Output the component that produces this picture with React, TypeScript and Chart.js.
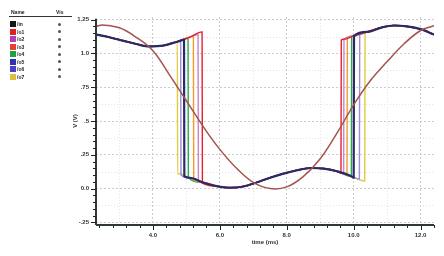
import React, { useEffect, useRef } from "react";
import { Chart, registerables } from "chart.js";
Chart.register(...registerables);

// input sine (brown)
const inputTimes = [2.3, 2.5, 3.0, 3.5, 4.0, 4.5, 5.0, 5.5, 6.0, 6.5, 7.0, 7.5, 8.0, 8.5, 9.0, 9.5, 10.0, 10.5, 11.0, 11.5, 12.0, 12.4];
const inputValues = [1.2, 1.21, 1.19, 1.12, 1.02, 0.84, 0.65, 0.46, 0.29, 0.15, 0.045, 0.0, 0.012, 0.09, 0.22, 0.41, 0.62, 0.8, 0.94, 1.07, 1.17, 1.205];

// shared output states
const highATimes = [2.3, 2.7, 3.1, 3.5, 3.9, 4.3, 4.7, 5.1, 5.5];
const highAValues = [1.14, 1.12, 1.095, 1.07, 1.052, 1.058, 1.085, 1.12, 1.16];
const lowTimes = [4.8, 5.1, 5.5, 5.9, 6.3, 6.7, 7.1, 7.5, 7.9, 8.3, 8.7, 9.1, 9.5, 9.9, 10.3];
const lowValues = [0.11, 0.08, 0.045, 0.018, 0.006, 0.015, 0.045, 0.08, 0.11, 0.135, 0.152, 0.148, 0.128, 0.095, 0.058];
const highBTimes = [9.7, 10.0, 10.4, 10.8, 11.2, 11.6, 12.0, 12.4];
const highBValues = [1.105, 1.13, 1.16, 1.19, 1.207, 1.2, 1.18, 1.14];

// switched output series
const seriesNames = ["/o1", "/o2", "/o3", "/o4", "/o5", "/o6", "/o7"];
const seriesColors = ["#e4202c", "#c884cc", "#f09a2e", "#2aa84c", "#2a2a68", "#9c8cdc", "#e2cc3a"];
const fallTimes = [5.47, 5.35, 5.21, 5.05, 4.93, 4.83, 4.73];
const fallTop = [1.16, 1.14, 1.13, 1.115, 1.1, 1.09, 1.085];
const fallBottom = [0.04, 0.05, 0.065, 0.08, 0.09, 0.1, 0.11];
const riseTimes = [9.62, 9.7, 9.8, 9.93, 10.0, 10.17, 10.33];
const riseBottom = [0.115, 0.11, 0.1, 0.09, 0.08, 0.07, 0.055];
const riseTop = [1.1, 1.105, 1.115, 1.125, 1.13, 1.145, 1.155];

const inputName = "/in";
const inputColor = "#a4544e";
const legendNames = [inputName, ...seriesNames];
const legendSwatches = ["#151515", "#e02020", "#b040b8", "#e84030", "#20a040", "#3030b0", "#4a40c4", "#d8c040"];

const xTickValues = [4, 6, 8, 10, 12];
const xTickLabels = ["4.0", "6.0", "8.0", "10.0", "12.0"];
const yTickValues = [1.25, 1.0, 0.75, 0.5, 0.25, 0.0, -0.25];
const yTickLabels = ["1.25", "1.0", ".75", ".5", ".25", "0.0", "-.25"];
const xMinorGrid = [3, 5, 7, 9, 11];
const yMinorGrid = [1.125, 0.875, 0.625, 0.375, 0.125, -0.125];

function buildSeries(i: number) {
  const tf = fallTimes[i];
  const tr = riseTimes[i];
  const pts: { x: number; y: number }[] = [];
  highATimes.forEach((t, k) => { if (t < tf - 0.05) pts.push({ x: t, y: highAValues[k] }); });
  pts.push({ x: tf, y: fallTop[i] });
  pts.push({ x: tf + 0.01, y: fallBottom[i] });
  lowTimes.forEach((t, k) => { if (t > tf + 0.06 && t < tr - 0.06) pts.push({ x: t, y: lowValues[k] }); });
  pts.push({ x: tr, y: riseBottom[i] });
  pts.push({ x: tr + 0.01, y: riseTop[i] });
  highBTimes.forEach((t, k) => { if (t > tr + 0.06) pts.push({ x: t, y: highBValues[k] }); });
  return pts;
}

const decor = {
  id: "decor",
  beforeDatasetsDraw(chart: any) {
    const { ctx, chartArea: a, scales } = chart;
    const x = scales.x, y = scales.y;
    ctx.save();
    ctx.strokeStyle = "#e4e4e4";
    ctx.lineWidth = 1;
    ctx.setLineDash([1, 2]);
    for (const v of xMinorGrid) {
      const px = Math.round(x.getPixelForValue(v)) + 0.5;
      ctx.beginPath(); ctx.moveTo(px, a.top); ctx.lineTo(px, a.bottom); ctx.stroke();
    }
    for (const v of yMinorGrid) {
      const py = Math.round(y.getPixelForValue(v)) + 0.5;
      ctx.beginPath(); ctx.moveTo(a.left, py); ctx.lineTo(a.right, py); ctx.stroke();
    }
    ctx.restore();
  },
  afterDraw(chart: any) {
    const { ctx, chartArea: a, scales } = chart;
    const x = scales.x, y = scales.y;
    ctx.save();
    ctx.setLineDash([]);
    ctx.strokeStyle = "#2e3a33";
    ctx.lineWidth = 2;
    ctx.beginPath(); ctx.moveTo(a.left, a.bottom); ctx.lineTo(a.right, a.bottom); ctx.stroke();
    ctx.beginPath(); ctx.moveTo(a.left, y.getPixelForValue(1.25) - 1); ctx.lineTo(a.left, a.bottom); ctx.stroke();
    ctx.lineWidth = 1;
    ctx.strokeStyle = "#222";
    for (let k = 0; k <= 25; k++) {
      const v = 2.4 + k * 0.4;
      if (v > 12.41) break;
      const px = Math.round(x.getPixelForValue(v)) + 0.5;
      const major = Math.abs(v / 2 - Math.round(v / 2)) < 0.01;
      ctx.beginPath(); ctx.moveTo(px, a.bottom); ctx.lineTo(px, a.bottom + (major ? 5 : 3)); ctx.stroke();
    }
    for (let k = 0; k <= 30; k++) {
      const v = -0.25 + k * 0.05;
      const py = Math.round(y.getPixelForValue(v)) + 0.5;
      const major = Math.abs(v / 0.25 - Math.round(v / 0.25)) < 0.01;
      ctx.beginPath(); ctx.moveTo(a.left, py); ctx.lineTo(a.left - (major ? 5 : 3), py); ctx.stroke();
    }
    ctx.restore();
  },
};

export default function App() {
  const ref = useRef<HTMLCanvasElement>(null);
  useEffect(() => {
    if (!ref.current) return;
    const datasets: any[] = [
      {
        label: inputName,
        data: inputTimes.map((t, k) => ({ x: t, y: inputValues[k] })),
        borderColor: inputColor,
        borderWidth: 1.5,
        pointRadius: 0,
        tension: 0.4,
        order: 0,
      },
      ...seriesNames.map((n, i) => ({
        label: n,
        data: buildSeries(i),
        borderColor: seriesColors[i],
        borderWidth: i === 4 ? 2.2 : 1.4,
        pointRadius: 0,
        cubicInterpolationMode: "monotone",
        order: i === 4 ? 1 : 2 + i,
      })),
    ];
    const font = { family: "'Liberation Sans', Arial, sans-serif", size: 6, weight: "bold" as const };
    const chart = new Chart(ref.current, {
      type: "line",
      data: { datasets },
      plugins: [decor],
      options: {
        animation: false,
        responsive: false,
        layout: { padding: { left: 68, top: 17, right: 10, bottom: 6 } },
        plugins: { legend: { display: false }, tooltip: { enabled: false } },
        scales: {
          x: {
            type: "linear",
            min: 2.3,
            max: 12.4,
            afterFit: (s: any) => { s.height = 25; },
            afterBuildTicks: (s: any) => { s.ticks = xTickValues.map((v) => ({ value: v })); },
            ticks: {
              padding: 7,
              font,
              color: "#333",
              maxRotation: 0,
              autoSkip: false,
              callback: (v: any) => { const k = xTickValues.indexOf(Number(v)); return k >= 0 ? xTickLabels[k] : ""; },
            },
            grid: { color: "#cccccc", lineWidth: 1, drawTicks: false },
            border: { display: false, dash: [2, 2] },
            title: { display: true, text: "time (ms)", font, color: "#333", padding: 4 },
          },
          y: {
            type: "linear",
            min: -0.27,
            max: 1.27,
            afterFit: (s: any) => { s.width = 28; },
            afterBuildTicks: (s: any) => { s.ticks = yTickValues.map((v) => ({ value: v })); },
            ticks: {
              padding: 7,
              font,
              color: "#333",
              autoSkip: false,
              callback: (v: any) => { const k = yTickValues.indexOf(Number(v)); return k >= 0 ? yTickLabels[k] : ""; },
            },
            grid: { color: "#cccccc", lineWidth: 1, drawTicks: false },
            border: { display: false, dash: [2, 2] },
            title: { display: true, text: "V (V)", font, color: "#333", padding: 4 },
          },
        },
      } as any,
    });
    return () => chart.destroy();
  }, []);

  const rowTop = (i: number) => 21 + i * 7.5;
  return (
    <div style={{ position: "fixed", left: 0, top: 0, width: 444, height: 256, background: "#fff", overflow: "hidden", fontFamily: "'Liberation Sans', Arial, sans-serif" }}>
      <canvas ref={ref} width={444} height={256} style={{ position: "absolute", left: 0, top: 0, width: 444, height: 256 }} />
      <div style={{ position: "absolute", left: 11, top: 9, fontSize: 5, fontWeight: "bold", color: "#222", lineHeight: "6px" }}>Name</div>
      <div style={{ position: "absolute", left: 56, top: 9, fontSize: 5, fontWeight: "bold", color: "#222", lineHeight: "6px" }}>Vis</div>
      <div style={{ position: "absolute", left: 9, top: 16, width: 63, height: 1, background: "#333" }} />
      {legendNames.map((n, i) => (
        <React.Fragment key={n}>
          <div style={{ position: "absolute", left: 10, top: rowTop(i), width: 6, height: 6, background: legendSwatches[i] }} />
          <div style={{ position: "absolute", left: 17, top: rowTop(i), fontSize: 5, fontWeight: "bold", color: "#222", lineHeight: "6px" }}>{n}</div>
          <div style={{ position: "absolute", left: 58, top: rowTop(i) + 1.5, width: 3, height: 3, borderRadius: 2, background: "#4a5a55" }} />
        </React.Fragment>
      ))}
    </div>
  );
}
